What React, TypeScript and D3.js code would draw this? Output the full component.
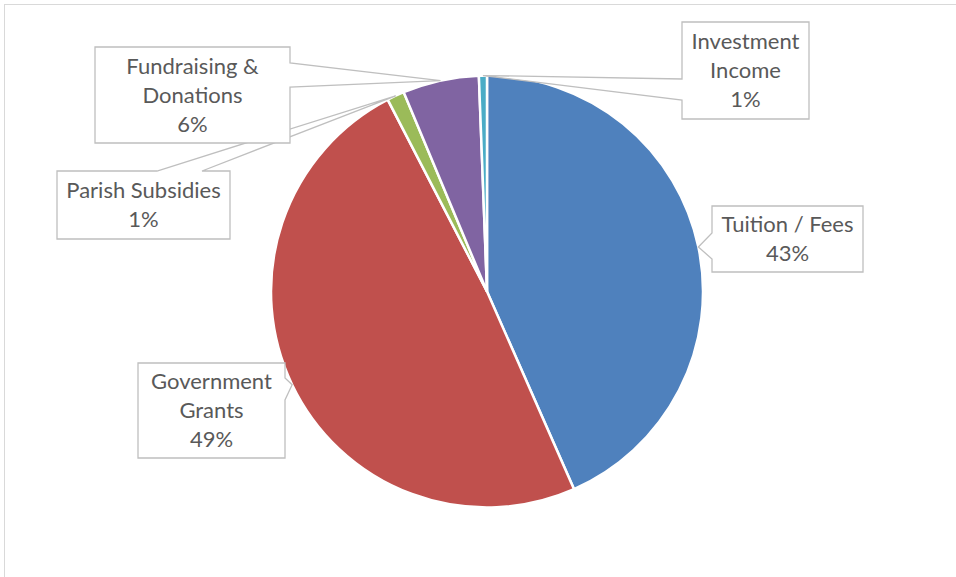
import { useEffect, useRef } from "react";
import * as d3 from "d3";

const categories = [
  "Tuition / Fees",
  "Government Grants",
  "Parish Subsidies",
  "Fundraising & Donations",
  "Investment Income",
];
const values = [43.4, 49.0, 1.3, 5.7, 0.6];
const colors = ["#4F81BD", "#C0504D", "#9BBB59", "#8064A2", "#4BACC6"];
// how each label is broken into lines (percent is appended)
const labelLines = [
  ["Tuition / Fees"],
  ["Government", "Grants"],
  ["Parish Subsidies"],
  ["Fundraising &", "Donations"],
  ["Investment", "Income"],
];
// callout boxes: x, y, w, h, side the pointer leaves from, pointer base range
const callouts = [
  { x: 712, y: 206, w: 151, h: 66, side: "left", b0: 233, b1: 259 },
  { x: 138, y: 363, w: 147, h: 95, side: "right", b0: 378, b1: 400 },
  { x: 57, y: 171, w: 173, h: 68, side: "top", b0: 157, b1: 202 },
  { x: 95, y: 47, w: 195, h: 96, side: "right", b0: 63, b1: 87 },
  { x: 682, y: 22, w: 127, h: 97, side: "left", b0: 79, b1: 100 },
];
// draw order so overlapping callouts stack like the original
const drawOrder = [2, 3, 4, 0, 1];

export default function App() {
  const svgRef = useRef<SVGSVGElement | null>(null);

  useEffect(() => {
    document.body.style.margin = "0";
    const svg = d3.select(svgRef.current);
    svg.selectAll("*").remove();

    const cx = 487;
    const cy = 291.5;
    const r = 216;

    // chart frame
    svg
      .append("rect")
      .attr("x", 4.5)
      .attr("y", 4.5)
      .attr("width", 1000)
      .attr("height", 1000)
      .attr("fill", "#fff")
      .attr("stroke", "#d9d9d9")
      .attr("stroke-width", 1);

    const pie = d3
      .pie<number>()
      .sort(null)
      .value((d) => d);
    const arcs = pie(values);
    const arc = d3.arc<d3.PieArcDatum<number>>().innerRadius(0).outerRadius(r);

    const g = svg.append("g").attr("transform", `translate(${cx},${cy})`);
    g.selectAll("path")
      .data(arcs)
      .join("path")
      .attr("d", arc)
      .attr("fill", (_d, i) => colors[i])
      .attr("stroke", "#fff")
      .attr("stroke-width", 2.5);

    const total = d3.sum(values);
    const labels = svg.append("g");

    drawOrder.forEach((i) => {
      const a = arcs[i];
      const mid = (a.startAngle + a.endAngle) / 2;
      const tx = cx + r * Math.sin(mid);
      const ty = cy - r * Math.cos(mid);
      const c = callouts[i];
      const x0 = c.x;
      const y0 = c.y;
      const x1 = c.x + c.w;
      const y1 = c.y + c.h;

      const pts: [number, number][] = [[x0, y0]];
      if (c.side === "top") pts.push([c.b0, y0], [tx, ty], [c.b1, y0]);
      pts.push([x1, y0]);
      if (c.side === "right") pts.push([x1, c.b0], [tx, ty], [x1, c.b1]);
      pts.push([x1, y1], [x0, y1]);
      if (c.side === "left") pts.push([x0, c.b1], [tx, ty], [x0, c.b0]);

      labels
        .append("path")
        .attr("d", "M" + pts.map((p) => p.join(",")).join("L") + "Z")
        .attr("fill", "#fff")
        .attr("stroke", "#bfbfbf")
        .attr("stroke-width", 1.3)
        .attr("stroke-linejoin", "miter");

      const lines = [
        ...labelLines[i],
        `${Math.round((values[i] / total) * 100)}%`,
      ];
      const lh = 29;
      const startY = (y0 + y1) / 2 - ((lines.length - 1) * lh) / 2;
      const t = labels
        .append("text")
        .attr("text-anchor", "middle")
        .attr("font-family", "Lato, 'Open Sans', sans-serif")
        .attr("font-size", 22)
        .attr("fill", "#595959");
      lines.forEach((ln, k) => {
        t.append("tspan")
          .attr("x", (x0 + x1) / 2)
          .attr("y", startY + k * lh)
          .attr("dy", "0.35em")
          .text(ln);
      });
    });
  }, []);

  return (
    <svg
      ref={svgRef}
      width={956}
      height={577}
      style={{ display: "block" }}
      aria-label={categories.join(", ")}
    />
  );
}
